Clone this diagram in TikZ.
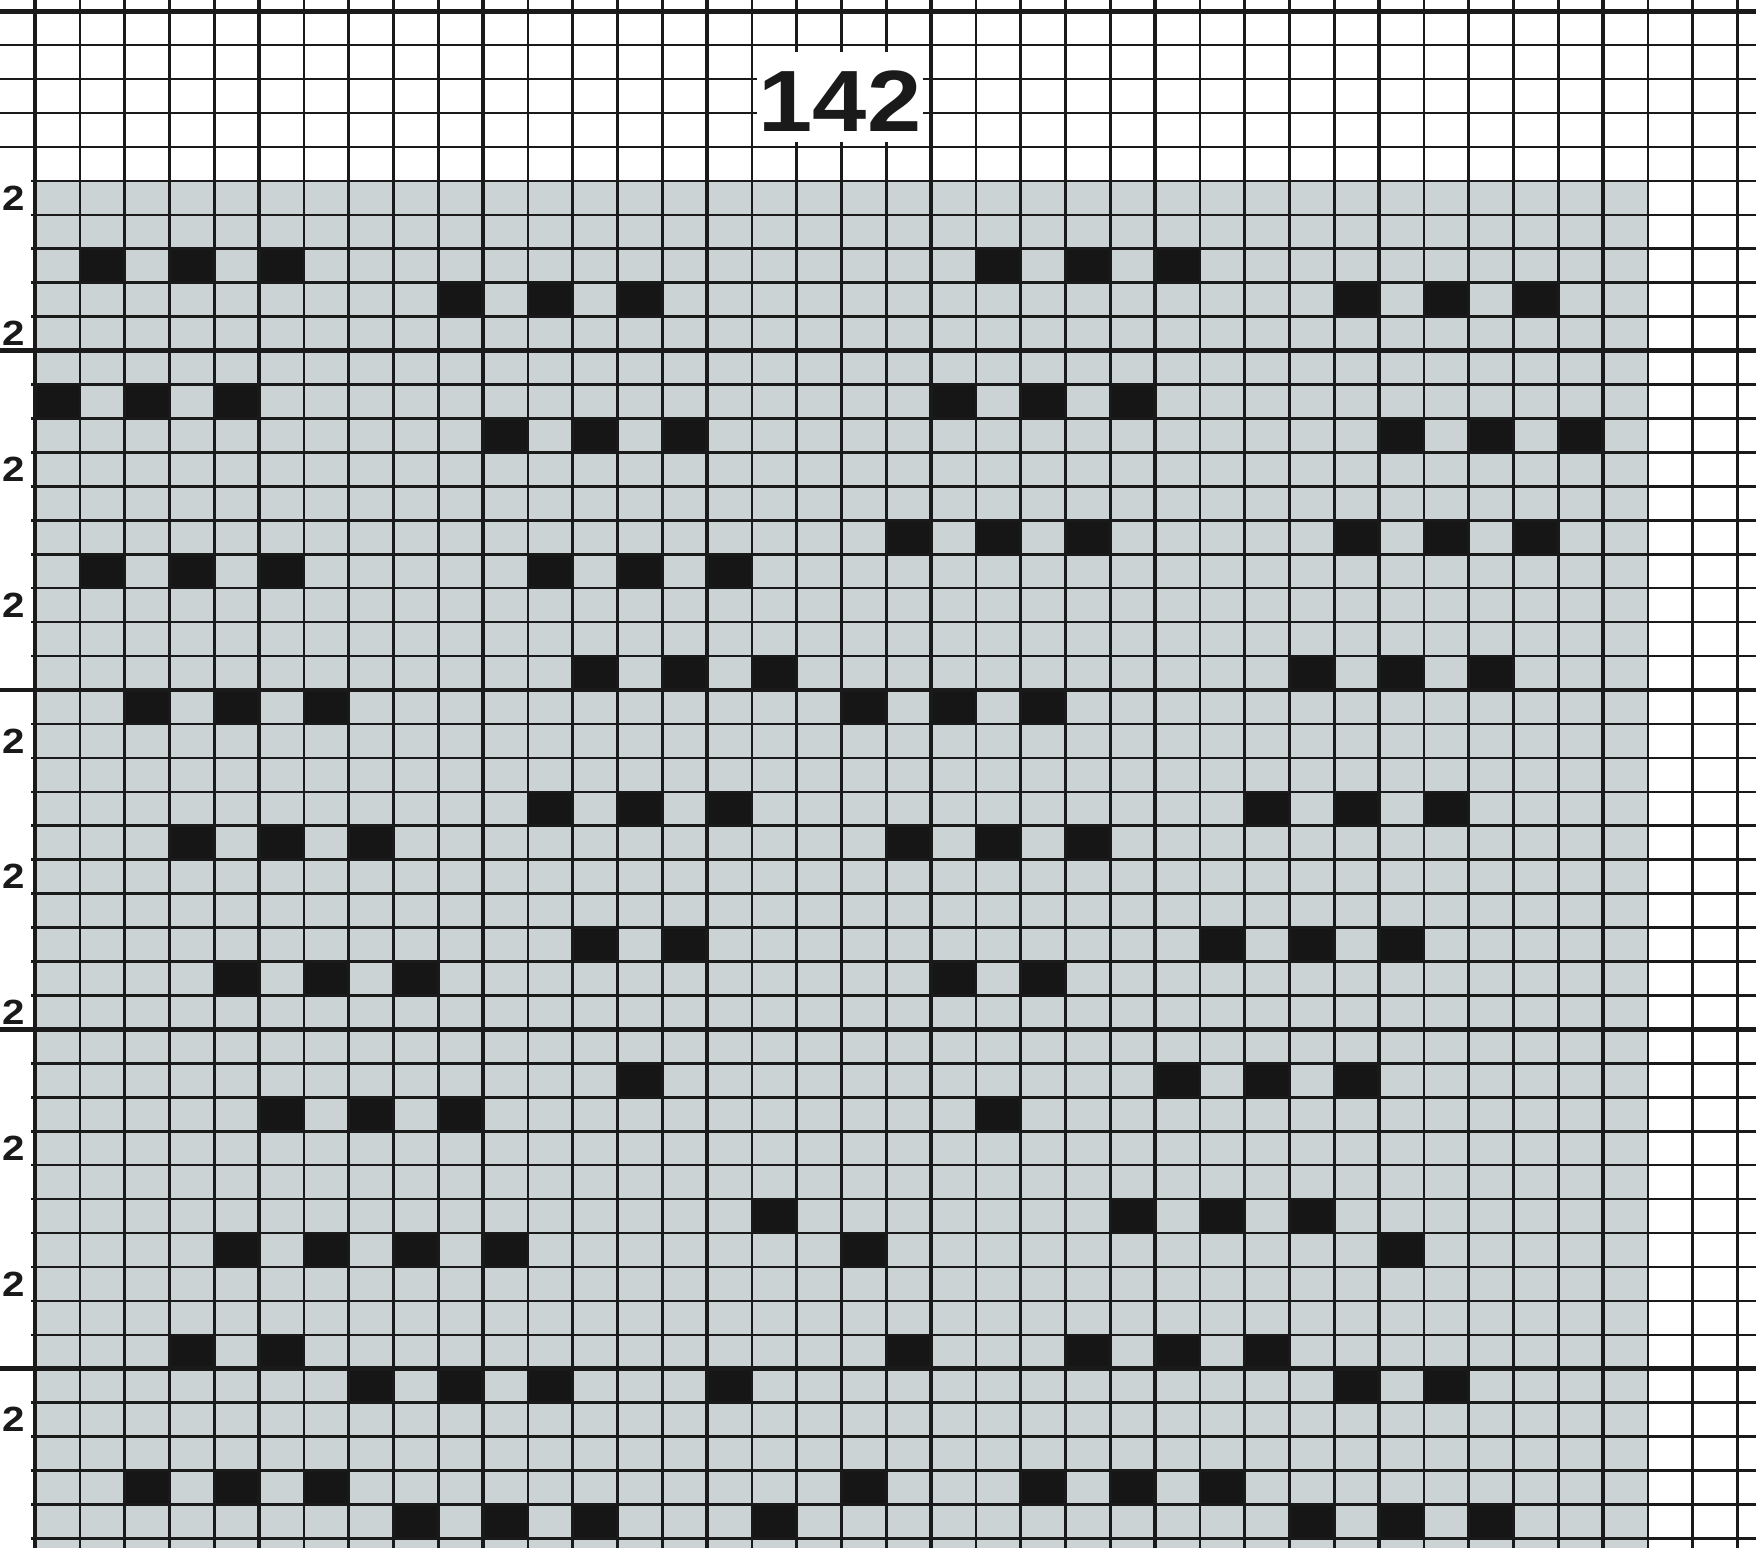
\documentclass[tikz,border=0pt]{standalone}
\usepackage{fontspec}
\usepackage{graphicx}
\setmainfont{Liberation Sans}
\definecolor{chartgray}{RGB}{204,211,213}
\definecolor{gridink}{RGB}{26,26,26}
\definecolor{cellink}{RGB}{22,22,22}
\tikzset{
  thinline/.style={draw=gridink, line width=2.6pt},
  heavyline/.style={draw=gridink, line width=4.8pt},
  cellfill/.style={fill=cellink},
  rowlabel/.style={font=\fontsize{35}{35}\selectfont\bfseries, text=gridink, inner sep=0pt},
  titlebox/.style={fill=white, draw=none, minimum width=166pt, minimum height=90pt, inner sep=0pt},
  titletext/.style={font=\fontsize{87}{87}\selectfont\bfseries, text=gridink, inner sep=0pt}
}
\begin{document}
\begin{tikzpicture}[x=1pt,y=-1pt]
\def\cw{44.8}
\def\rh{33.94}
\def\ox{35}
\def\oy{11.2}
\useasboundingbox (0,0) rectangle (1756,1548);
\fill[white] (0,0) rectangle (1756,1548);
% gray chart area
\fill[chartgray] (\ox,{\oy+5*\rh}) rectangle ({\ox+36*\cw},1548);
% black cells
\foreach \r/\cols in {
  7/{1,3,5,21,23,25},
  8/{9,11,13,29,31,33},
  11/{0,2,4,20,22,24},
  12/{10,12,14,30,32,34},
  15/{19,21,23,29,31,33},
  16/{1,3,5,11,13,15},
  19/{12,14,16,28,30,32},
  20/{2,4,6,18,20,22},
  23/{11,13,15,27,29,31},
  24/{3,5,7,19,21,23},
  27/{12,14,26,28,30},
  28/{4,6,8,20,22},
  31/{13,25,27,29},
  32/{5,7,9,21},
  35/{16,24,26,28},
  36/{4,6,8,10,18,30},
  39/{3,5,19,23,25,27},
  40/{7,9,11,15,29,31},
  43/{2,4,6,18,22,24,26},
  44/{8,10,12,16,28,30,32}}{
  \foreach \c in \cols {
    \fill[cellfill] ({\ox+\c*\cw},{\oy+\r*\rh}) rectangle ({\ox+(\c+1)*\cw},{\oy+(\r+1)*\rh});
  }
}
% thin vertical lines
\foreach \c in {0,...,38} {
  \draw[thinline] ({\ox+\c*\cw},0) -- ({\ox+\c*\cw},1548);
}
% thin horizontal lines
\foreach \r in {0,...,4} {
  \draw[thinline] (0,{\oy+\r*\rh}) -- (1756,{\oy+\r*\rh});
}
\foreach \r in {5,...,45} {
  \draw[thinline] (31,{\oy+\r*\rh}) -- (1756,{\oy+\r*\rh});
}
% heavy lines
\foreach \c in {0,5,...,35} {
  \draw[heavyline] ({\ox+\c*\cw},0) -- ({\ox+\c*\cw},1548);
}
\foreach \r in {0,10,20,30,40} {
  \draw[heavyline] (0,{\oy+\r*\rh}) -- (1756,{\oy+\r*\rh});
}
% title
\node[titlebox] (tbox) at (840,96.5) {};
\node[titletext] (title) at (840,101) {\scalebox{1.12}[1]{142}};
% row labels
\foreach \r [count=\i] in {5,9,...,41} {
  \node[rowlabel] (lab\i) at (14,{\oy+(\r+0.5)*\rh}) {\scalebox{1.15}[1]{2}};
}
\end{tikzpicture}
\end{document}
